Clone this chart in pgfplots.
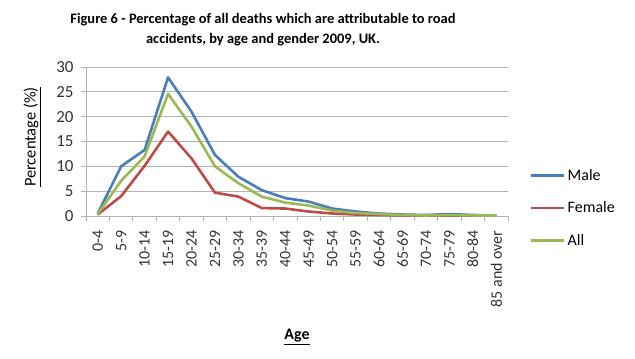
\documentclass[border=0pt]{standalone}
\usepackage{fontspec}
\setmainfont{Carlito}
\usepackage{pgfplots}
\pgfplotsset{compat=1.18}
\definecolor{cblue}{HTML}{4A7EBB}
\definecolor{cred}{HTML}{BE4B48}
\definecolor{cgreen}{HTML}{98B954}
\definecolor{cgrid}{HTML}{B3B3B3}
\begin{document}
\begin{tikzpicture}[x=1bp,y=1bp]
\path[use as bounding box] (0,0) rectangle (635,358);
\node[align=center, font=\fontsize{14.5}{20}\selectfont\bfseries] at (263,328) {Figure 6 - Percentage of all deaths which are attributable to road\\accidents, by age and gender 2009, UK.};
\begin{axis}[
  at={(86bp,142bp)}, anchor=south west, scale only axis,
  width=422bp, height=149bp,
  xmin=-0.5, xmax=17.5, ymin=0, ymax=30,
  ytick={0,5,...,30},
  xtick={0,...,17},
  xticklabels={0-4,5-9,10-14,15-19,20-24,25-29,30-34,35-39,40-44,45-49,50-54,55-59,60-64,65-69,70-74,75-79,80-84,85 and over},
  minor xtick={-0.5,0.5,...,17.5},
  major x tick style={draw=none},
  minor tick length=5bp, major tick length=5bp,
  tick align=outside,
  axis lines*=left,
  axis line style={cgrid, line width=0.8bp},
  every tick/.style={cgrid, line width=0.8bp},
  ymajorgrids, grid style={cgrid, line width=0.8bp},
  /pgf/number format/assume math mode=true,
  tick label style={font=\fontsize{17}{17}\selectfont, text=black!80},
  yticklabel shift=4bp,
  x tick label style={rotate=90, anchor=east, font=\fontsize{16}{16}\selectfont},
  xticklabel shift=6bp,
  xlabel={\underline{\textbf{Age}}},
  xlabel style={at={(axis description cs:0.5,-0.812)}, anchor=center, font=\fontsize{16}{16}\selectfont},
  ylabel={\underline{Percentage (\%)}},
  ylabel style={at={(axis description cs:-0.128,0.53)}, anchor=center, font=\fontsize{16.5}{16.5}\selectfont},
  legend style={at={(axis description cs:1.052,0.33)}, anchor=north west, draw=none, fill=none, font=\fontsize{16}{16}\selectfont, row sep=16bp, inner sep=0pt},
  legend cell align=left,
  legend image code/.code={\draw[#1] (0bp,0bp) -- (33bp,0bp);},
  every axis plot/.append style={line width=2.6bp, line join=round},
]
\addplot[cblue] coordinates {(0,0.5) (1,10) (2,13.3) (3,27.9) (4,21) (5,12.3) (6,7.9) (7,5.2) (8,3.6) (9,2.9) (10,1.5) (11,0.9) (12,0.5) (13,0.3) (14,0.2) (15,0.4) (16,0.2) (17,0.1)};
\addlegendentry{Male}
\addplot[cred] coordinates {(0,0.3) (1,4.0) (2,10.1) (3,17.0) (4,11.6) (5,4.7) (6,3.9) (7,1.6) (8,1.5) (9,0.9) (10,0.5) (11,0.3) (12,0.2) (13,0.1) (14,0.1) (15,0.1) (16,0.1) (17,0.1)};
\addlegendentry{Female}
\addplot[cgreen] coordinates {(0,0.4) (1,7.1) (2,12.0) (3,24.6) (4,18) (5,10.0) (6,6.6) (7,3.9) (8,2.7) (9,2.1) (10,1.1) (11,0.6) (12,0.4) (13,0.2) (14,0.1) (15,0.2) (16,0.1) (17,0.1)};
\addlegendentry{All}
\end{axis}
\end{tikzpicture}
\end{document}
